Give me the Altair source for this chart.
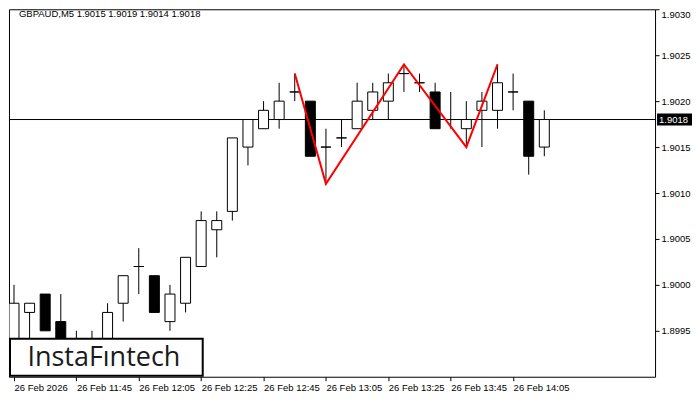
import altair as alt
import pandas as pd

symbol = "GBPAUD,M5"
times = ["11:25", "11:30", "11:35", "11:40", "11:45", "11:50", "11:55", "12:00",
         "12:05", "12:10", "12:15", "12:20", "12:25", "12:30", "12:35", "12:40",
         "12:45", "12:50", "12:55", "13:00", "13:05", "13:10", "13:15", "13:20",
         "13:25", "13:30", "13:35", "13:40", "13:45", "13:50", "13:55", "14:00",
         "14:05", "14:10", "14:15"]
opens = [1.8993, 1.8997, 1.8999, 1.8996, 1.8993, 1.8992, 1.8993, 1.8998,
         1.9002, 1.9001, 1.8996, 1.8998, 1.9002, 1.9006, 1.9008, 1.9015,
         1.9017, 1.9018, 1.9021, 1.9020, 1.9015, 1.9016, 1.9017, 1.9019,
         1.9020, 1.9023, 1.9022, 1.9021, 1.9018, 1.9017, 1.9019, 1.9019,
         1.9021, 1.9020, 1.9015]
highs = [1.9000, 1.8998, 1.8999, 1.8999, 1.8995, 1.8995, 1.8998, 1.9001,
         1.9004, 1.9001, 1.9000, 1.9003, 1.9008, 1.9008, 1.9016, 1.9018,
         1.9020, 1.9022, 1.9023, 1.9020, 1.9017, 1.9018, 1.9022, 1.9022,
         1.9023, 1.9024, 1.9023, 1.9022, 1.9021, 1.9020, 1.9021, 1.9024,
         1.9023, 1.9020, 1.9019]
lows = [1.8991, 1.8993, 1.8995, 1.8992, 1.8991, 1.8991, 1.8992, 1.8996,
        1.8999, 1.8997, 1.8995, 1.8997, 1.9002, 1.9003, 1.9007, 1.9013,
        1.9017, 1.9017, 1.9020, 1.9014, 1.9011, 1.9015, 1.9017, 1.9018,
        1.9018, 1.9021, 1.9021, 1.9017, 1.9017, 1.9015, 1.9015, 1.9017,
        1.9019, 1.9012, 1.9014]
closes = [1.8998, 1.8998, 1.8995, 1.8993, 1.8992, 1.8993, 1.8997, 1.9001,
          1.9002, 1.8997, 1.8999, 1.9003, 1.9007, 1.9007, 1.9016, 1.9018,
          1.9019, 1.9020, 1.9021, 1.9014, 1.9015, 1.9016, 1.9020, 1.9021,
          1.9022, 1.9023, 1.9022, 1.9017, 1.9018, 1.9018, 1.9020, 1.9022,
          1.9021, 1.9014, 1.9018]

tick_times = ["11:25", "11:45", "12:05", "12:25", "12:45", "13:05", "13:25", "13:45", "14:05"]
tick_labels = ["26 Feb 2026", "26 Feb 11:45", "26 Feb 12:05", "26 Feb 12:25", "26 Feb 12:45",
               "26 Feb 13:05", "26 Feb 13:25", "26 Feb 13:45", "26 Feb 14:05"]
y_ticks = [1.8995, 1.9000, 1.9005, 1.9010, 1.9015, 1.9020, 1.9025, 1.9030]

pattern_times = ["12:55", "13:05", "13:30", "13:50", "14:00"]
pattern_prices = [1.9023, 1.9011, 1.9024, 1.9015, 1.9024]

current_price = 1.9018
logo_text = "InstaFıntech"

W, H = 647, 368
FONT = "Liberation Sans"

df = pd.DataFrame({"i": list(range(len(times))), "time": times, "open": opens,
                   "high": highs, "low": lows, "close": closes})
df["bull"] = df["close"] >= df["open"]

tick_idx = [times.index(t) for t in tick_times]
label_expr = "[" + ",".join("'" + s + "'" for s in tick_labels) + "][indexof([" + \
    ",".join(str(v) for v in tick_idx) + "], datum.value)]"

xscale = alt.Scale(domain=[0, 40.78], nice=False, zero=False)
yscale = alt.Scale(domain=[1.8990, 1.9030], nice=False, zero=False)
xaxis = alt.Axis(values=tick_idx, labelExpr=label_expr, title=None, grid=False, domain=False,
                 tickSize=4, tickColor="black", labelAlign="left", labelFlush=False,
                 labelOverlap=False, labelPadding=2, labelFontSize=9.5, labelFont=FONT,
                 labelColor="black", labelBaseline="top")
yaxis = alt.Axis(orient="right", values=y_ticks, format=".4f", title=None, grid=False,
                 domain=False, tickSize=4, tickColor="black", labelPadding=2,
                 labelFontSize=9.5, labelFont=FONT, labelColor="black", labelFlush=True)


def xenc(field):
    return alt.X(field, type="quantitative", scale=xscale, axis=xaxis)


def yenc(field):
    return alt.Y(field, type="quantitative", scale=yscale, axis=yaxis)


base = alt.Chart(df)

price_df = pd.DataFrame({"price": [current_price], "label": [f"{current_price:.4f}"]})
price_line = alt.Chart(price_df).mark_rule(color="black", strokeWidth=1).encode(y=yenc("price"))

wicks = base.mark_rule(color="black", strokeWidth=1, clip=True).encode(
    x=xenc("i"), y=yenc("low"), y2="high")
bodies = base.mark_bar(size=10, stroke="black", strokeWidth=1, clip=True).encode(
    x=xenc("i"), y=yenc("open"), y2="close",
    fill=alt.condition(alt.datum.bull, alt.value("white"), alt.value("black")))

pat_df = pd.DataFrame({"i": [times.index(t) for t in pattern_times], "price": pattern_prices})
pattern = alt.Chart(pat_df).mark_line(color="#ff0000", strokeWidth=2).encode(
    x=xenc("i"), y=yenc("price"))

one = pd.DataFrame({"t": [logo_text]})
logo_box = alt.Chart(one).mark_rect(fill="white", stroke="black", strokeWidth=2).encode(
    x=alt.value(1), x2=alt.value(194), y=alt.value(330), y2=alt.value(367))
logo = alt.Chart(one).mark_text(fontSize=27, font="Open Sans", fontWeight=500, color="#1a1a1a",
                                align="center", baseline="middle").encode(
    x=alt.value(95), y=alt.value(349), text="t:N")

title_df = pd.DataFrame({"t": [f"{symbol}  {opens[-1]:.4f} {highs[-1]:.4f} {lows[-1]:.4f} {closes[-1]:.4f}"]})
title = alt.Chart(title_df).mark_text(fontSize=9.5, font=FONT, color="black",
                                      align="left", baseline="middle").encode(
    x=alt.value(10), y=alt.value(5), text="t:N")

price_box = alt.Chart(price_df).mark_tick(orient="horizontal", size=35, thickness=12,
                                          color="black", opacity=1, clip=False).encode(
    x=alt.value(W + 19.5), y=yenc("price"))
price_text = alt.Chart(price_df).mark_text(fontSize=9.5, font=FONT, color="white",
                                           align="left", baseline="middle", clip=False).encode(
    x=alt.value(W + 4), y=yenc("price"), text="label:N")

chart = alt.layer(price_line, wicks, bodies, pattern, logo_box, logo, title,
                  price_box, price_text).properties(
    width=W, height=H, padding=0, background="white"
).configure_view(stroke="black", strokeWidth=1)

chart.save("out.html", embed_options={"renderer": "svg", "actions": False})
